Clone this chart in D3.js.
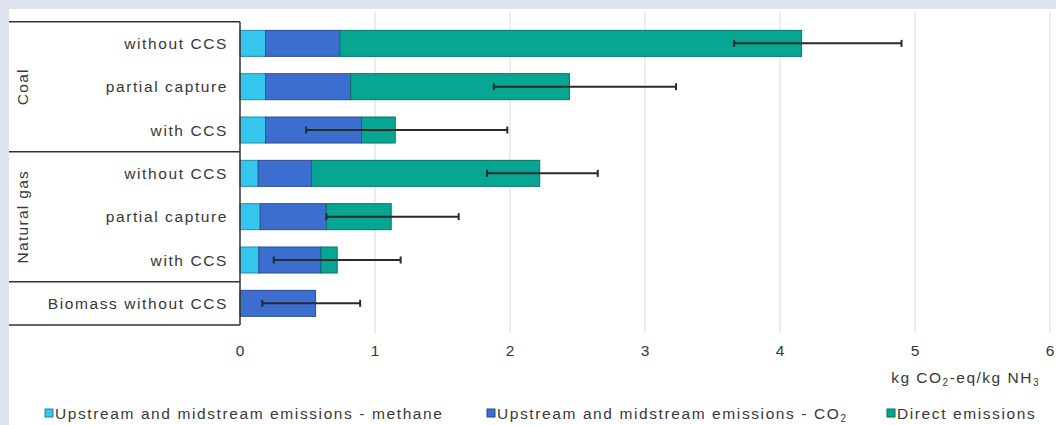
<!DOCTYPE html>
<html>
<head>
<meta charset="utf-8">
<script src="https://cdn.jsdelivr.net/npm/d3@7"></script>
<style>
  html, body { margin: 0; padding: 0; background: #dde4ef; }
  svg { display: block; }
  text { font-family: "Liberation Sans", Arial, sans-serif; fill: #383838; }
</style>
</head>
<body>
<svg id="chart" width="1056" height="425"></svg>
<script>
// ---- data ----
const categories = ["without CCS", "partial capture", "with CCS", "without CCS", "partial capture", "with CCS", "Biomass without CCS"];
const groups = ["Coal", "Coal", "Coal", "Natural gas", "Natural gas", "Natural gas", ""];
const methane = [0.19, 0.19, 0.19, 0.135, 0.15, 0.14, 0.0];
const co2 = [0.55, 0.63, 0.71, 0.395, 0.49, 0.46, 0.56];
const direct = [3.42, 1.62, 0.25, 1.69, 0.48, 0.12, 0.0];
const errLow = [3.66, 1.88, 0.49, 1.83, 0.64, 0.25, 0.165];
const errHigh = [4.9, 3.23, 1.98, 2.65, 1.62, 1.19, 0.89];
const seriesNames = ["Upstream and midstream emissions - methane", "Upstream and midstream emissions - CO", "Direct emissions"];
const seriesSub = ["", "2", ""];
const seriesColors = ["#35c6ee", "#3c6ed0", "#07a692"];
const xTicks = [0, 1, 2, 3, 4, 5, 6];

// ---- layout ----
const svg = d3.select("#chart");
svg.append("rect").attr("x", 9).attr("y", 9).attr("width", 1047).attr("height", 416).attr("fill", "#ffffff");

const x = d3.scaleLinear().domain([0, 6]).range([240, 1050]);
const idx = d3.range(categories.length);
const y = d3.scaleBand().domain(idx).range([21.7, 325]).paddingInner(0.4).paddingOuter(0.2);

// gridlines
svg.append("g").selectAll("line").data(xTicks.filter(d => d > 0)).join("line")
  .attr("x1", d => x(d)).attr("x2", d => x(d))
  .attr("y1", 12).attr("y2", 333)
  .attr("stroke", "#d9d9d9").attr("stroke-width", 1);

// stacked bars
const rows = idx.map(i => ({ i, vals: [methane[i], co2[i], direct[i]] }));
const stack = d3.stack().keys([0, 1, 2]).value((d, k) => d.vals[k]);
const stacked = stack(rows);
svg.append("g").selectAll("g").data(stacked).join("g")
  .attr("fill", (d, k) => seriesColors[k])
  .attr("stroke", (d, k) => d3.color(seriesColors[k]).darker(1))
  .selectAll("rect").data(d => d.filter(s => s[1] - s[0] > 0)).join("rect")
  .attr("x", s => x(s[0]))
  .attr("width", s => x(s[1]) - x(s[0]))
  .attr("y", s => y(s.data.i))
  .attr("height", y.bandwidth())
  .attr("stroke-width", 1);

// error bars
const eb = svg.append("g").attr("stroke", "#2a2a2a").attr("stroke-width", 2);
idx.forEach(i => {
  const cy = y(i) + y.bandwidth() / 2;
  eb.append("line").attr("x1", x(errLow[i])).attr("x2", x(errHigh[i])).attr("y1", cy).attr("y2", cy);
  [errLow[i], errHigh[i]].forEach(v => {
    eb.append("line").attr("x1", x(v)).attr("x2", x(v)).attr("y1", cy - 3.5).attr("y2", cy + 3.5);
  });
});

// left label box
const box = svg.append("g").attr("stroke", "#333").attr("stroke-width", 1.5);
const bounds = [0, 3, 6, 7].map(k => 21.7 + k * y.step());
bounds.forEach(b => box.append("line").attr("x1", 9).attr("x2", 240).attr("y1", b).attr("y2", b));
box.append("line").attr("x1", 240).attr("x2", 240).attr("y1", bounds[0]).attr("y2", bounds[3]);

// category labels
svg.append("g").selectAll("text").data(idx).join("text")
  .attr("x", 228).attr("y", i => y(i) + y.bandwidth() / 2)
  .attr("dy", "0.36em").attr("text-anchor", "end")
  .attr("font-size", 15.5).attr("letter-spacing", 1.6)
  .text(i => categories[i]);

// group labels
const groupNames = Array.from(new Set(groups.filter(g => g)));
groupNames.forEach(g => {
  const members = idx.filter(i => groups[i] === g);
  const top = 21.7 + members[0] * y.step();
  const bot = 21.7 + (members[members.length - 1] + 1) * y.step();
  const cy = (top + bot) / 2;
  svg.append("text").attr("transform", `translate(22,${cy}) rotate(-90)`)
    .attr("text-anchor", "middle").attr("dy", "0.36em")
    .attr("font-size", 15.5).attr("letter-spacing", 1.3).text(g);
});

// x axis tick labels
svg.append("g").selectAll("text").data(xTicks).join("text")
  .attr("x", d => x(d)).attr("y", 350).attr("dy", "0.36em")
  .attr("text-anchor", "middle").attr("font-size", 15.5)
  .text(d => d);

// axis title
const t = svg.append("text").attr("x", 1040).attr("y", 383).attr("text-anchor", "end")
  .attr("font-size", 15.5).attr("letter-spacing", 1.5);
t.append("tspan").text("kg CO");
t.append("tspan").attr("font-size", 10).attr("dy", 3).text("2");
t.append("tspan").attr("dy", -3).text("-eq/kg NH");
t.append("tspan").attr("font-size", 10).attr("dy", 3).text("3");

// legend
const legendX = [45, 487, 887];
const lg = svg.append("g");
seriesNames.forEach((name, k) => {
  lg.append("rect").attr("x", legendX[k]).attr("y", 409).attr("width", 8).attr("height", 8)
    .attr("fill", seriesColors[k]).attr("stroke", d3.color(seriesColors[k]).darker(1.2)).attr("stroke-width", 1);
  const tx = lg.append("text").attr("x", legendX[k] + 10).attr("y", 413).attr("dy", "0.36em")
    .attr("font-size", 15.5).attr("letter-spacing", 1.6);
  tx.append("tspan").text(name);
  if (seriesSub[k]) tx.append("tspan").attr("font-size", 10).attr("dy", 3).text(seriesSub[k]);
});
</script>
</body>
</html>
